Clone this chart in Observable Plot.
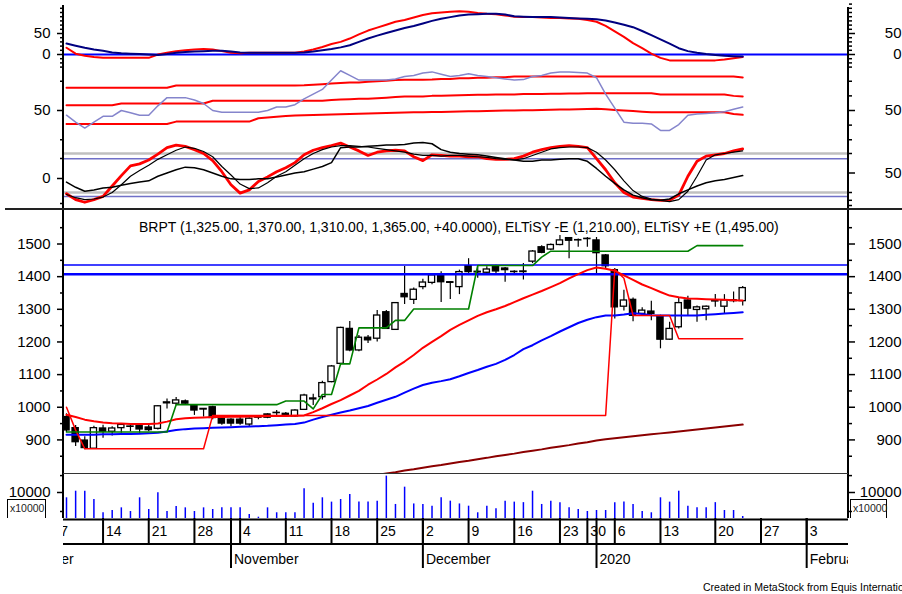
<!DOCTYPE html>
<html>
<head>
<meta charset="utf-8">
<script src="https://cdn.jsdelivr.net/npm/d3@7"></script>
<script src="https://cdn.jsdelivr.net/npm/@observablehq/plot@0.6"></script>
<style>
  html, body { margin: 0; padding: 0; background: #fff; }
  #chart { position: relative; width: 902px; height: 594px; overflow: hidden; background: #fff;
           font-family: "Liberation Sans", Arial, sans-serif; color: #000; }
  .ln { position: absolute; background: #000; z-index: 5; }
  .txt { position: absolute; white-space: nowrap; z-index: 6; }
  .box { position: absolute; border: 1px solid #000; border-bottom: none; font-size: 10.5px; line-height: 17px;
         padding-left: 2px; z-index: 6; color: #222; box-sizing: border-box; }
</style>
</head>
<body>
<div id="chart"></div>
<script>
const FONT = '"Liberation Sans", Arial, sans-serif';

// ---------- DATA (trading-day index 1 = 8 Oct 2019 ... 75 = last bar) ----------
const bars = d3.range(1, 76);
const open  = [970,936,898,873,935,925,936,940,942,938, 934,1012,1011,1018,1005,995,1000,965,962,962,
               947,970,978,982,980,972,992,1024,1031,1077, 1133,1240,1174,1213,1210,1291,1237,1347,1329,1368,
               1381,1404,1383,1368,1432,1413,1412,1432,1425,1415, 1414,1446,1490,1483,1497,1518,1512,1516,1511,1465,
               1420,1308,1329,1286,1293,1278,1207,1245,1327,1298, 1300,1324,1308,1328,1325];
const high  = [980,944,910,942,945,940,950,950,948,945, 1005,1025,1030,1022,1006,996,1003,970,965,970,
               968,972,980,990,984,992,1040,1040,1080,1128, 1245,1263,1220,1220,1296,1296,1320,1431,1365,1392,
               1410,1415,1385,1420,1455,1430,1430,1435,1428,1418, 1440,1480,1495,1500,1526,1520,1515,1520,1520,1468,
               1425,1358,1335,1305,1325,1282,1260,1333,1340,1310, 1310,1345,1345,1353,1370];
const low   = [922,880,870,873,905,912,920,925,920,925, 930,995,1005,1008,975,970,962,945,940,945,
               940,962,965,975,970,970,990,1005,1022,1075, 1130,1170,1170,1195,1200,1238,1235,1315,1315,1360,
               1375,1321,1330,1345,1410,1395,1405,1410,1383,1405, 1390,1440,1470,1480,1495,1455,1490,1490,1404,1425,
               1270,1295,1262,1280,1265,1179,1205,1240,1280,1260, 1265,1306,1285,1320,1310];
const close = [929,893,875,936,925,935,946,941,932,930, 1003,1015,1021,1011,990,993,967,950,950,950,
               965,968,968,983,973,990,1036,1027,1074,1125, 1243,1174,1213,1205,1281,1240,1319,1337,1360,1382,
               1404,1383,1381,1414,1414,1415,1422,1416,1420,1414, 1416,1477,1473,1497,1511,1510,1511,1515,1472,1432,
               1306,1327,1280,1296,1286,1207,1240,1319,1302,1306, 1308,1326,1327,1325,1365];
// volume, in units of 10000
const volume = [7960,10500,10500,7300,2200,3080,4100,2700,7960,3460, 9870,2700,4600,4100,2700,4100,3460,4100,4100,4100,
                1540,500,4100,2200,2200,2200,11400,5900,7960,6300, 7300,9230,6300,6300,6670,16300,5400,12050,5600,5400,
                4740,7960,6670,5600,4740,2200,4740,3720,6670,6300, 6100,10500,5400,6670,6100,4100,3460,2700,3080,3080,
                6100,6300,5400,2700,2200,7960,6300,10500,4740,4100, 4100,6100,3080,3080,770];
// ELTiSY +E (green) and ELTiSY -E (red step)
const eltisyPlus  = [924,924,924,924,924,924,924,924,924,924, 924,924,1008,1008,1008,1008,1008,1008,1008,1008,
                     1008,1008,1008,1008,1019,1019,1019,995,1039,1039, 1133,1133,1243,1243,1243,1243,1266,1266,1301,1301,
                     1301,1301,1301,1301,1301,1434,1434,1434,1434,1434, 1434,1434,1460,1478,1478,1478,1478,1478,1478,1478,
                     1478,1478,1478,1478,1478,1478,1478,1478,1478,1495, 1495,1495,1495,1495,1495];
const eltisyMinus = [1000,930,873,873,873,873,873,873,873,873, 873,873,873,873,873,873,975,975,975,975,
                     975,975,975,975,975,975,975,975,975,975, 975,975,975,975,975,975,975,975,975,975,
                     975,975,975,975,975,975,975,975,975,975, 975,975,975,975,975,975,975,975,975,975,
                     1422,1395,1281,1281,1281,1281,1281,1210,1210,1210, 1210,1210,1210,1210,1210];
const maRed  = [977,970,962,957,953,951,950,949,949,949, 950,956,963,966,968,969,970,970,971,971,
                972,972,973,973,973,974,975,985,997,1010, 1022,1036,1050,1069,1085,1102,1122,1140,1160,1182,
                1200,1218,1237,1252,1266,1280,1291,1300,1310,1322, 1334,1345,1356,1368,1380,1395,1408,1420,1428,1424,
                1418,1404,1390,1376,1365,1353,1342,1337,1333,1332, 1331,1330,1329,1328,1327];
const maBlue = [916,916,916,916,917,917,918,918,919,920, 922,926,930,933,935,936,937,938,939,940,
                941,942,943,945,947,949,953,962,970,977, 984,990,997,1004,1014,1023,1032,1045,1057,1068,
                1075,1080,1086,1095,1105,1114,1124,1133,1145,1160, 1178,1190,1205,1218,1232,1245,1258,1268,1276,1281,
                1281,1284,1288,1286,1282,1281,1281,1281,1281,1281, 1283,1285,1287,1289,1291];
const maLongDays = d3.range(35, 76);
const maLong = [793,797,801,806,810,815,819,823,828,832, 836,841,845,850,854,858,863,867,871,876,
                880,884,889,893,898,902,905,908,911,914, 917,920,923,926,929,932,935,938,941,944, 947];
const resistance = [1436, 1407];
// upper indicator pane
const trendBlue = [26,21,16,12,9,5,3,2,1,0, -1,1,4,6,7,8,9,9,7,5, 4,4,4,4,4,4,5,7,10,13,
                   17,22,30,38,45,51,57,63,68,74, 80,85,89,93,95,96,97,97,95,91, 90,89,89,89,88,87,86,85,84,81,
                   76,71,65,56,46,36,26,15,8,4, 1,-1,-3,-4,-5];
const trendRed  = [16,2,-3,-6,-8,-8,-8,-8,-8,-8, 0,4,8,10,12,13,12,8,4,3, 4,4,4,4,4,4,7,12,18,25,
                   30,38,48,57,64,71,78,82,88,94, 98,100,102,103,102,99,97,96,93,90, 89,89,88,87,87,86,85,82,78,68,
                   55,42,27,15,2,-8,-14,-14,-14,-14, -14,-14,-12,-9,-6];
const rsi      = [46,40,35,40,45,45,50,48,46,46, 54,61,61,61,59,56,50,48.5,48.5,48.5, 48.5,48.5,50,53,53,55,60,64,68,76,
                  84,80,76,76,76,76,77,79,80,82, 83,81,79,80,81.5,80,79,78,77,76, 76.4,79,80,82,83,83,82.5,82,78,64,
                  52,40,39,39,38.5,33,33,38,46,47, 47.5,48,49,51,53];
const rsiUpper = [69.5,69.5,69.5,69.5,69.5,69.5,69.5,69.5,69.5,69.5, 69.5,69.5,71.3,71.3,71.3,71.3,71.3,71.3,71.3,71.3,
                  71.3,71.3,71.3,71.3,71.3,71.3,71.5,72,72.5,73, 73.5,74,74,74.5,75,75.5,76,76.3,76.3,76.3,
                  76.5,77,77,77.5,77.5,78,78,78.5,78.5,79, 79,79,79,79,79,79,79,79,79,79,
                  79,79,79,79,79,79,79,79,79,79, 79,79,79,79,78.3];
const rsiMid   = [54.5,54.5,54.5,54.5,54.5,54.5,56,56,56,56, 56,56,56,56,56,56,58.3,58.3,58.3,58.3,
                  58.3,58.3,58.3,58.3,58.3,58.3,58.3,58.3,58.3,59, 59.3,59.6,60,60,60.5,61,61.5,62,62,62,
                  62.5,62.7,62.9,63,63.2,63.4,63.5,63.6,63.7,63.7, 64,64.1,64.2,64.3,64.4,64.5,64.6,64.7,64.8,64.8,
                  64.8,64.8,64.8,64.8,64.8,63.7,63.7,63.7,63.7,63.7, 63.7,63.7,63.7,62.5,62];
const rsiLower = [38.5,38.5,38.5,38.5,38.5,38.5,38.5,38.5,38.5,38.5, 38.5,38.5,40.5,40.5,40.5,40.5,40.5,40.5,40.5,40.5,
                  40.5,43.4,44,44.6,45.2,45.7,46,46.2,46.4,46.6, 46.8,47,47.2,47.4,47.6,47.8,48,48.2,48.4,48.5,
                  48.7,48.8,49,49.1,49.3,49.4,49.6,49.7,49.9,50, 50.2,50.3,50.5,50.6,50.8,50.9,51.1,51.2,51.4,51,
                  50.5,50,49.5,49,48.5,48.5,48.5,48.5,48.5,48.5, 48.5,48.5,48.5,47,46.3];
const stochK    = [18,9,5,9,14,30,46,61,64,70, 79,89,93,91,86,80,69,52,32,19, 24,37,44,52,58,66,78,85,89,92,
                   96,90,84,77,82,84,85,84,75,69, 78,77,76,76,75,75,72,71,71,72, 76,82,86,89,91,92,91,89,72,55,
                   35,20,13,11,9,8,8,16,45,68, 76,78,80,84,87];
const stochD    = [17,12,9,10,13,20,32,45,54,62, 71,78,85,90,88,83,75,60,47,33, 26,27,35,45,52,62,72,80,86,90,
                   92,92,91,90,88,86,84,82,79,77, 77,76,77,77,76,75,74,72,71,70, 72,77,82,87,89,90,90,89,82,70,
                   55,38,23,14,10,8,6,9,22,45, 70,78,80,82,84];
const stochSlow = [36,28,22,24,27,28,31,34,36,38, 45,50,55,59,58,55,50,45,41,40, 40,41,41,44,47,50,52,56,60,66,
                   89,90,90,91,92,93,93,94,96,97, 95,86,82,80,79,78,76,74,72,70, 68,68,70,70,71,72,72,68,57,45,
                   34,24,16,12,9,8,10,18,24,30, 35,38,40,43,46];
const stochLevels = [80, 20];
const stochSignal = [72, 14];
// axis ticks
const priceTicks = [900, 1000, 1100, 1200, 1300, 1400, 1500];
const priceMinor = [850, 950, 1050, 1150, 1250, 1350, 1450, 1550];
const weekTicks  = [0, 5, 10, 15, 20, 25, 30, 35, 40, 45, 50, 55, 58, 61, 66, 72, 77, 82];
const weekLabels = ["7","14","21","28","4","11","18","25","2","9","16","23","30","6","13","20","27","3"];
const monthTicks  = [-4, 19, 40, 59, 82];
const monthLabels = ["October", "November", "December", "2020", "February"];
const titleText = "BRPT (1,325.00, 1,370.00, 1,310.00, 1,365.00, +40.0000), ELTiSY -E (1,210.00), ELTiSY +E (1,495.00)";

// ---------- BUILD ----------
const rows = bars.map((i, k) => ({
  i, open: open[k], high: high[k], low: low[k], close: close[k], volume: volume[k],
  plusE: eltisyPlus[k], minusE: eltisyMinus[k], maRed: maRed[k], maBlue: maBlue[k],
  trendBlue: trendBlue[k], trendRed: trendRed[k],
  rsi: rsi[k], rsiUpper: rsiUpper[k], rsiMid: rsiMid[k], rsiLower: rsiLower[k],
  k: stochK[k], d: stochD[k], slow: stochSlow[k]
}));
const longRows = maLongDays.map((i, k) => ({i, v: maLong[k]}));

const chart = document.getElementById("chart");
const X_DOMAIN = [(63 - 56.86) / 9.138, (848 - 56.86) / 9.138];

function panel(top, height, yDomain, marks, yExtra = {}) {
  const svg = Plot.plot({
    width: 902, height, marginLeft: 63, marginRight: 54, marginTop: 0, marginBottom: 0,
    x: {domain: X_DOMAIN, axis: null},
    y: {domain: yDomain, axis: null, label: null, ...yExtra},
    color: {type: "identity"},
    style: {background: "transparent", fontFamily: FONT, fontSize: "14px", color: "#000", overflow: "visible"},
    marks
  });
  svg.style.position = "absolute";
  svg.style.top = top + "px";
  svg.style.left = "0px";
  chart.appendChild(svg);
  return svg;
}
const fmt = d => String(d);
const none = () => "";
function leftAxis(ticks, f, size = 6) {
  return Plot.axisY(ticks, {anchor: "left", tickSize: size, tickPadding: 13 - size, tickFormat: f,
    label: null, fontSize: 15, strokeWidth: 1.5});
}
function rightAxis(ticks, f, size = 6) {
  return Plot.axisY(ticks, {anchor: "right", tickSize: size, tickPadding: 53 - size, textAnchor: "end",
    tickFormat: f, label: null, fontSize: 15, strokeWidth: 1.5});
}

// upper pane: RSI with bands
panel(0, 209, [-34.62, 144.02], [
  Plot.line(rows, {x: "i", y: "rsiUpper", stroke: "#ff0000", strokeWidth: 2}),
  Plot.line(rows, {x: "i", y: "rsiMid", stroke: "#ff0000", strokeWidth: 2}),
  Plot.line(rows, {x: "i", y: "rsiLower", stroke: "#ff0000", strokeWidth: 2}),
  Plot.line(rows, {x: "i", y: "rsi", stroke: "#8585cc", strokeWidth: 1.5}),
  leftAxis([50], fmt), leftAxis([25, 75], none, 3),
  rightAxis([50], fmt), rightAxis([25, 37.5, 62.5, 75], none, 3)
]);
// upper pane: stochastic
panel(0, 209, [-6.15, 315.38], [
  Plot.ruleY(stochLevels, {stroke: "#c0c0c0", strokeWidth: 2.5}),
  Plot.ruleY(stochSignal, {stroke: "#7070c8", strokeWidth: 1.5}),
  Plot.line(rows, {x: "i", y: "k", stroke: "#ff0000", strokeWidth: 2.8}),
  Plot.line(rows, {x: "i", y: "slow", stroke: "#000", strokeWidth: 1.5}),
  Plot.line(rows, {x: "i", y: "d", stroke: "#000", strokeWidth: 1.2}),
  rightAxis([50], fmt), rightAxis([0, 8, 20, 80], none, 3)
]);
// upper pane: left oscillator axis
panel(0, 209, [-31, 178], [leftAxis([0], fmt), leftAxis([-25, 20], none, 3)]);
// upper pane: trend lines
panel(0, 209, [-369.05, 128.57], [
  Plot.ruleY([0], {stroke: "#0000ff", strokeWidth: 2}),
  Plot.line(rows, {x: "i", y: "trendRed", stroke: "#ff0000", strokeWidth: 2}),
  Plot.line(rows, {x: "i", y: "trendBlue", stroke: "#000080", strokeWidth: 2}),
  leftAxis([0, 50], fmt), leftAxis([-30, -20, -10, 10, 20, 30, 40, 60, 70, 80, 90, 100, 110], none, 3),
  rightAxis([0, 50], fmt), rightAxis([-30, -20, -10, 10, 20, 30, 40, 60, 70, 80, 90, 100, 110, 120], none, 3)
]);

// price pane
panel(209, 264, [797.1, 1605.7], [
  Plot.ruleX(rows, {x: "i", y1: "low", y2: "high", stroke: "#000", strokeWidth: 1.2}),
  Plot.rect(rows, {x1: d => d.i - 0.34, x2: d => d.i + 0.34, y1: "open", y2: "close",
    fill: d => d.close >= d.open ? "#ffffff" : "#000000", stroke: "#000", strokeWidth: 1.3}),
  Plot.ruleY([resistance[0]], {stroke: "#0000ff", strokeWidth: 1.5}),
  Plot.ruleY([resistance[1]], {stroke: "#0000ff", strokeWidth: 2.5}),
  Plot.line(longRows, {x: "i", y: "v", stroke: "#8b0000", strokeWidth: 2, clip: true}),
  Plot.line(rows, {x: "i", y: "maBlue", stroke: "#0000ff", strokeWidth: 2}),
  Plot.line(rows, {x: "i", y: "maRed", stroke: "#ff0000", strokeWidth: 2}),
  Plot.line(rows, {x: "i", y: "minusE", stroke: "#ff0000", strokeWidth: 1.5}),
  Plot.line(rows, {x: "i", y: "plusE", stroke: "#008000", strokeWidth: 1.6}),
  leftAxis(priceTicks, fmt), leftAxis(priceMinor, none, 3),
  rightAxis(priceTicks, fmt), rightAxis(priceMinor, none, 3)
]);

// volume pane
panel(473, 45, [0, 17308], [
  Plot.ruleX(rows, {x: "i", y1: 0, y2: "volume", stroke: "#0000ff", strokeWidth: 1.5}),
  leftAxis([10000], fmt), leftAxis([2700, 16500], none, 3),
  rightAxis([10000], fmt), rightAxis([2700, 16500], none, 3)
]);

// date axis
panel(518, 52, [0, 52], [
  Plot.ruleY([1, 25.5], {strokeWidth: 2, stroke: "#000"}),
  Plot.ruleX(weekTicks, {x: d => d, y1: 0, y2: 25, stroke: "#000", strokeWidth: 2, clip: true}),
  Plot.ruleX(monthTicks, {x: d => d, y1: 0, y2: 50, stroke: "#000", strokeWidth: 2, clip: true}),
  Plot.text(weekTicks, {x: d => d, y: 13.5, text: (d, k) => weekLabels[k], textAnchor: "start", dx: 3,
    fontSize: 14, fill: "#000", clip: true}),
  Plot.text(monthTicks, {x: d => d, y: 41, text: (d, k) => monthLabels[k], textAnchor: "start", dx: 3,
    fontSize: 14, fill: "#000", clip: true})
], {range: [0, 52]});

// frame lines, title, caption, multipliers
function addDiv(cls, css, text) {
  const el = document.createElement("div");
  el.className = cls;
  el.style.cssText = css;
  if (text) el.textContent = text;
  chart.appendChild(el);
  return el;
}
addDiv("ln", "left:62px;top:5px;width:2px;height:513px;");
addDiv("ln", "left:847px;top:7px;width:2px;height:511px;");
addDiv("ln", "left:5px;top:208px;width:897px;height:2px;background:#222;");
addDiv("ln", "left:63px;top:473px;width:785px;height:1px;background:#333;");
addDiv("txt", "left:139px;top:219px;font-size:14px;", titleText);
addDiv("txt", "left:703px;top:581px;font-size:10.5px;", "Created in MetaStock from Equis International");
addDiv("box", "left:7px;top:499px;width:39px;height:19px;", "x10000");
addDiv("box", "left:850px;top:499px;width:37px;height:19px;", "x10000");
</script>
</body>
</html>
